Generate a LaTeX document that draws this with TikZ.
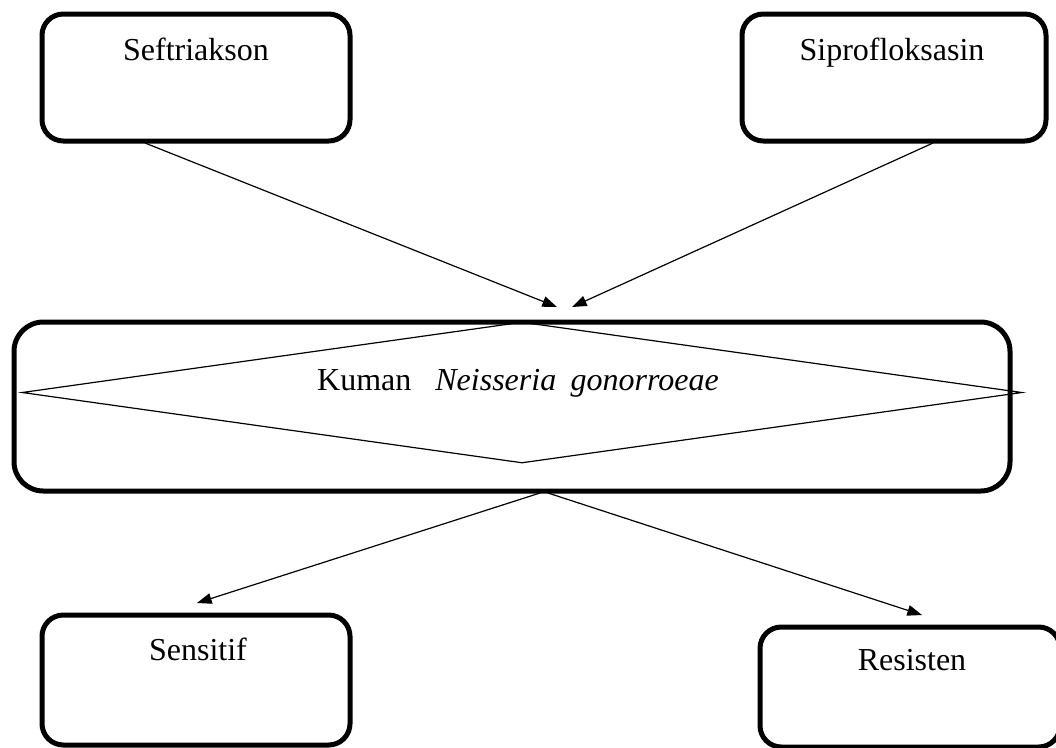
\documentclass[tikz,border=0pt]{standalone}
\usepackage{fontspec}
\setmainfont{Liberation Serif}
\usetikzlibrary{arrows.meta,shapes.geometric}
\begin{document}
\begin{tikzpicture}[x=0.75pt,y=-0.75pt,
  box/.style={draw, line width=3.75pt, rounded corners=16pt, inner sep=0pt},
  lbl/.style={anchor=base, inner sep=0pt, font=\fontsize{24}{28}\selectfont},
  arr/.style={line width=0.9pt, -{Triangle[length=11pt,width=8pt]}},
  dia/.style={draw, diamond, line width=0.9pt, inner sep=0pt}]
\useasboundingbox (0,0) rectangle (1056,747);
% boxes
\node[box, minimum width=231pt, minimum height=95.25pt] (sef) at (196,77.5) {};
\node[box, minimum width=228pt, minimum height=95.25pt] (sip) at (894,77.5) {};
\node[box, rounded corners=22pt, minimum width=747pt, minimum height=126.75pt] (kum) at (512,406.5) {};
\node[dia, minimum width=750pt, minimum height=105.75pt] (dm) at (522,392.5) {};
\node[box, minimum width=231pt, minimum height=97.5pt] (sen) at (196,680) {};
\node[box, minimum width=225pt, minimum height=90pt] (res) at (910,687) {};
% labels
\node[lbl] (sefT) at (196,60) {Seftriakson};
\node[lbl] (sipT) at (892,60) {Siprofloksasin};
\node[lbl] (kumT) at (518,390) {Kuman\hspace{0.75em}\textit{Neisseria}\hspace{0.45em}\textit{gonorroeae}};
\node[lbl] (senT) at (198,660) {Sensitif};
\node[lbl] (resT) at (912,670) {Resisten};
% connector end points
\coordinate (sefO) at (145,143);
\coordinate (sipO) at (933,143);
\coordinate (kIn1) at (557,307);
\coordinate (kIn2) at (572,307);
\coordinate (kOut1) at (540,493);
\coordinate (kOut2) at (548,493);
\coordinate (senIn) at (197,603);
\coordinate (resIn) at (922,615);
% connectors
\draw[arr] (sefO) -- (kIn1);
\draw[arr] (sipO) -- (kIn2);
\draw[arr] (kOut1) -- (senIn);
\draw[arr] (kOut2) -- (resIn);
\end{tikzpicture}
\end{document}
